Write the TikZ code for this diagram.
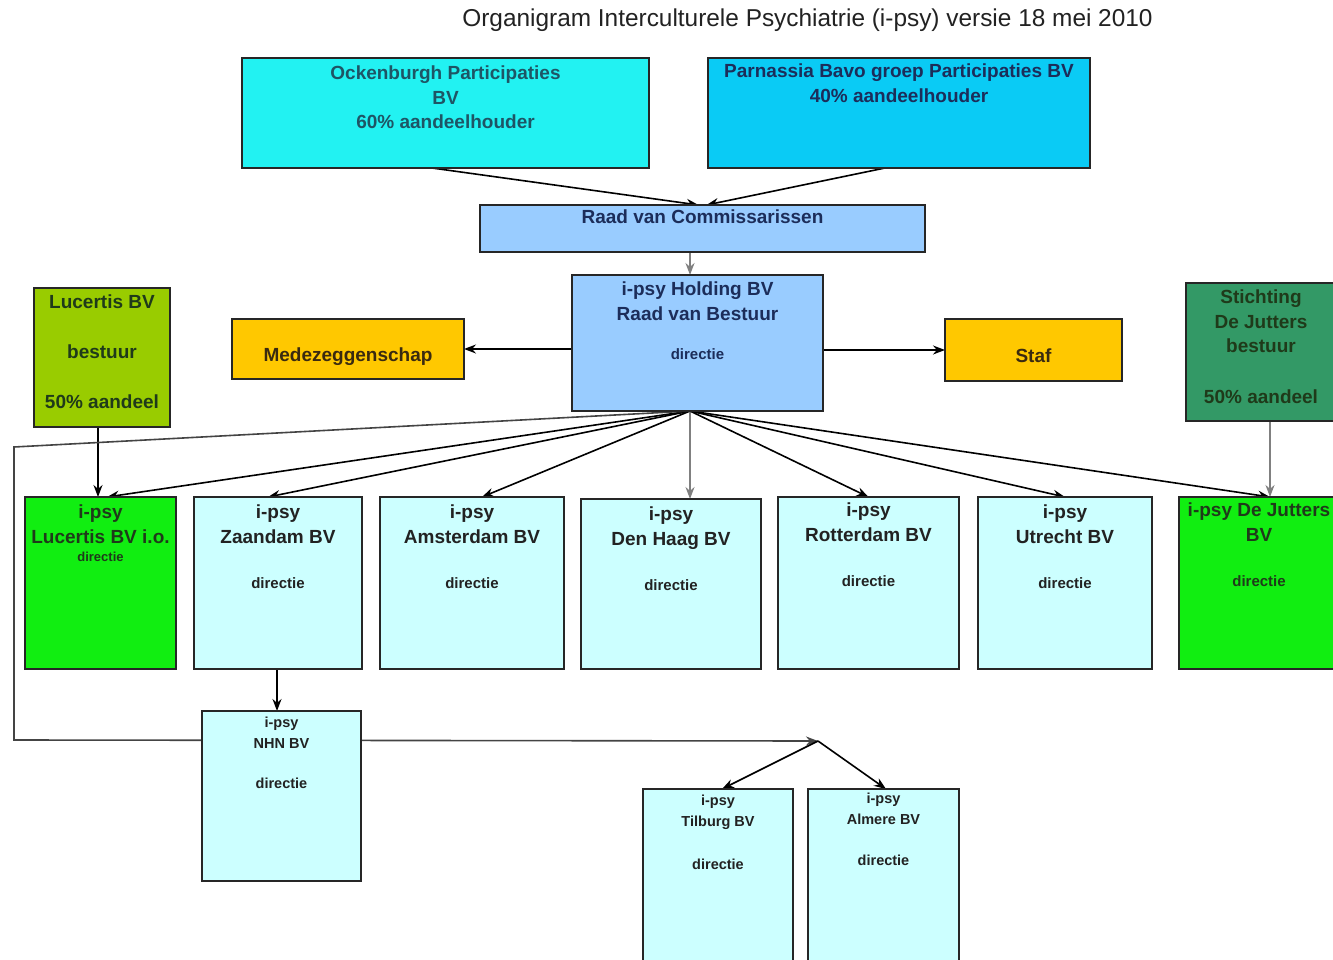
\documentclass[tikz,border=0pt]{standalone}
\usepackage{fontspec}
\setmainfont{Liberation Sans}
\usetikzlibrary{arrows.meta,backgrounds}
\definecolor{ockc}{HTML}{22F2F2}
\definecolor{parc}{HTML}{0ACBF5}
\definecolor{bluec}{HTML}{99CCFF}
\definecolor{orac}{HTML}{FFC800}
\definecolor{lucc}{HTML}{99CC00}
\definecolor{stic}{HTML}{339966}
\definecolor{grnc}{HTML}{11EE11}
\definecolor{cyac}{HTML}{CCFFFF}
\definecolor{ocktxt}{HTML}{1E5565}
\definecolor{navtxt}{HTML}{1C2D5A}
\definecolor{brntxt}{HTML}{3A2A10}
\definecolor{dktxt}{HTML}{222222}
\definecolor{grntxt}{HTML}{1F3A1A}
\definecolor{lnc}{HTML}{444444}
\newcommand\myfa{\fontsize{19}{24.5}\selectfont\bfseries}
\newcommand\myfd{\fontsize{15}{24.5}\selectfont\bfseries}
\newcommand\myfn{\fontsize{14.5}{21}\selectfont\bfseries}
\newcommand\boxt[5]{\parbox[c][#2][t]{#1}{#4\centering\vspace*{#3}#5\par}}
\begin{document}
\begin{tikzpicture}[x=1pt,y=-1pt,
  bx/.style={draw=black!85, line width=1.4pt, inner sep=0pt, outer sep=0pt},
  arr/.style={-{Stealth[length=12pt,width=9pt]}, line width=1.6pt, draw=black},
  garr/.style={arr, draw=gray}]
\useasboundingbox (0,0) rectangle (1333,960);
% title
\node[text=dktxt] (title) at (807.5,20) {\fontsize{24.4}{28}\selectfont Organigram Interculturele Psychiatrie (i-psy) versie 18 mei 2010};
% top boxes
\node[bx, fill=ockc, text=ocktxt] (ock) at (445.5,113) {\boxt{407pt}{110pt}{8pt}{\myfa}{Ockenburgh Participaties\\BV\\60\% aandeelhouder}};
\node[bx, fill=parc, text=navtxt] (par) at (899,113) {\boxt{382pt}{110pt}{6pt}{\myfa}{Parnassia Bavo groep Participaties BV\\40\% aandeelhouder}};
\node[bx, fill=bluec, text=navtxt] (raad) at (702.5,228.5) {\boxt{445pt}{47pt}{5pt}{\myfa}{Raad van Commissarissen}};
\node[bx, fill=bluec, text=navtxt] (hold) at (697.5,343) {\boxt{251pt}{136pt}{7pt}{\myfa}{i-psy Holding BV\\Raad van Bestuur\\[15pt]{\myfd directie}}};
\node[bx, fill=orac, text=brntxt] (mede) at (348,349) {\boxt{232pt}{60pt}{29pt}{\myfa}{Medezeggenschap}};
\node[bx, fill=orac, text=brntxt] (staf) at (1033.5,350) {\boxt{177pt}{62pt}{30pt}{\myfa}{Staf}};
\node[bx, fill=lucc, text=grntxt] (luc) at (102,357.5) {\boxt{136pt}{139pt}{7pt}{\myfa}{Lucertis BV\\[25.5pt]bestuur\\[25.5pt]50\% aandeel}};
\node[bx, fill=stic, text=grntxt] (stich) at (1261,352) {\boxt{150pt}{138pt}{7pt}{\myfa}{Stichting\\De Jutters\\bestuur\\[26pt]50\% aandeel}};
% children
\node[bx, fill=grnc, text=grntxt] (lucio) at (100.5,583) {\boxt{151pt}{172pt}{8pt}{\myfa}{i-psy\\Lucertis BV i.o.\\[-6.5pt]{\fontsize{13}{24.5}\selectfont\bfseries directie}}};
\node[bx, fill=cyac, text=dktxt] (zaan) at (278,583) {\boxt{168pt}{172pt}{8pt}{\myfa}{i-psy\\Zaandam BV\\[21pt]{\myfd directie}}};
\node[bx, fill=cyac, text=dktxt] (ams) at (472,583) {\boxt{184pt}{172pt}{8pt}{\myfa}{i-psy\\Amsterdam BV\\[21pt]{\myfd directie}}};
\node[bx, fill=cyac, text=dktxt] (dh) at (671,584) {\boxt{180pt}{170pt}{8pt}{\myfa}{i-psy\\Den Haag BV\\[21pt]{\myfd directie}}};
\node[bx, fill=cyac, text=dktxt] (rot) at (868.5,583) {\boxt{181pt}{172pt}{6pt}{\myfa}{i-psy\\Rotterdam BV\\[21pt]{\myfd directie}}};
\node[bx, fill=cyac, text=dktxt] (utr) at (1065,583) {\boxt{174pt}{172pt}{8pt}{\myfa}{i-psy\\Utrecht BV\\[21pt]{\myfd directie}}};
\node[bx, fill=grnc, text=grntxt] (jut) at (1259,583) {\boxt{160pt}{172pt}{6pt}{\myfa}{i-psy De Jutters\\BV\\[21pt]{\myfd directie}}};
% lower
\node[bx, fill=cyac, text=dktxt] (nhn) at (281.5,796) {\boxt{159pt}{170pt}{6pt}{\myfn}{i-psy\\NHN BV\\[19pt]directie}};
\node[bx, fill=cyac, text=dktxt] (tilb) at (718,877) {\boxt{150pt}{176pt}{6pt}{\myfn}{i-psy\\Tilburg BV\\[22pt]directie}};
\node[bx, fill=cyac, text=dktxt] (alm) at (883.5,877) {\boxt{151pt}{176pt}{4pt}{\myfn}{i-psy\\Almere BV\\[20pt]directie}};
% connectors
\begin{scope}[on background layer]
\fill[white] (0,0) rectangle (1333,960);
\draw[arr] ([xshift=-13.5pt]ock.south) -- ([xshift=-4pt]raad.north);
\draw[arr] ([xshift=-14pt]par.south) -- ([xshift=4pt]raad.north);
\draw[garr] ([xshift=-12.5pt]raad.south) -- ([xshift=-7.5pt]hold.north);
\draw[arr] (hold.west |- mede.east) -- (mede.east);
\draw[arr] (hold.east |- staf.west) -- (staf.west);
\coordinate (hb) at ([xshift=-7.5pt]hold.south);
\draw[arr] (hb) -- ([xshift=6.5pt]lucio.north);
\draw[arr] (hb) -- ([xshift=-10pt]zaan.north);
\draw[arr] (hb) -- ([xshift=10pt]ams.north);
\draw[garr] (hb) -- (hb |- dh.north);
\draw[arr] (hb) -- (rot.north);
\draw[arr] (hb) -- (utr.north);
\draw[arr] (hb) -- ([xshift=11pt]jut.north);
\coordinate (lb) at ([xshift=-4pt]luc.south);
\draw[arr] (lb) -- (lb |- lucio.north);
\coordinate (sb) at ([xshift=9pt]stich.south);
\draw[garr] (sb) -- (sb |- jut.north);
\coordinate (zb) at ([xshift=-1pt]zaan.south);
\draw[arr] (zb) -- (zb |- nhn.north);
\coordinate (c1) at (14,447);
\coordinate (c2) at (14,740);
\coordinate (sp) at (818,741);
\draw[arr, draw=lnc, line join=miter] (hb) -- (c1) -- (c2) -- (sp);
\draw[arr] (sp) -- ([xshift=4pt]tilb.north);
\draw[arr] (sp) -- ([xshift=2.5pt]alm.north);
\end{scope}
\end{tikzpicture}
\end{document}
